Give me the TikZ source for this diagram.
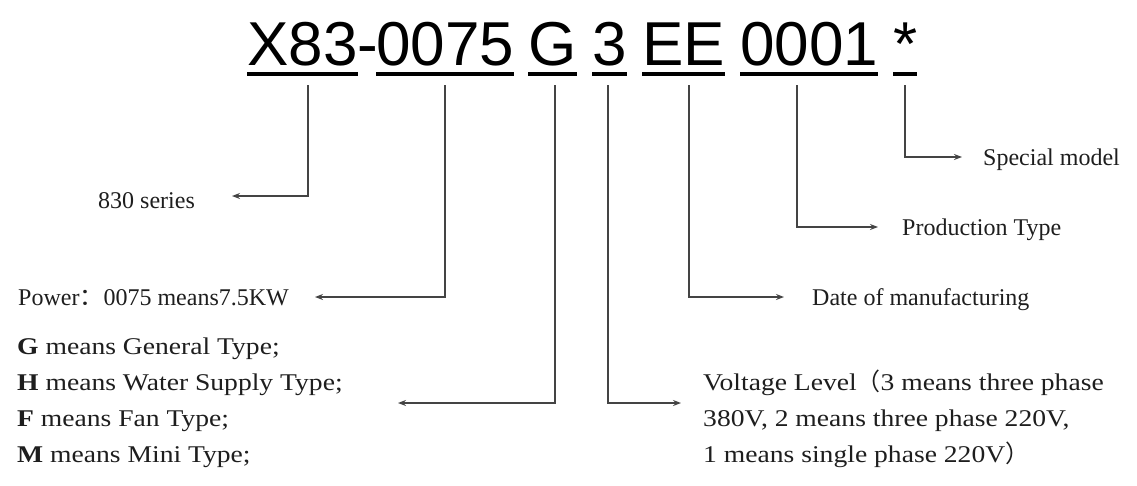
\documentclass[tikz,border=0pt]{standalone}
\usepackage{fontspec}
\setmainfont{Liberation Serif}
\newfontfamily\titlefont{Liberation Sans}
\newfontfamily\widefont[FakeStretch=1.15]{Liberation Serif}
\newfontfamily\cjk{Noto Sans CJK SC}
\usetikzlibrary{arrows.meta}
\definecolor{linec}{HTML}{444444}
\definecolor{labelc}{HTML}{1E1E1E}
\tikzset{
  code/.style={inner sep=0pt, anchor=base west, text=black, font=\titlefont\fontsize{62}{62}\selectfont},
  uline/.style={line width=4pt, draw=black},
  lbl/.style={inner sep=0pt, anchor=base west, text=labelc, font=\fontsize{24}{24}\selectfont},
  wlbl/.style={lbl, font=\widefont\fontsize{24}{24}\selectfont},
  conn/.style={draw=linec, line width=1.6pt, -{Stealth[length=8pt,width=6pt]}}
}
\begin{document}
\begin{tikzpicture}[x=1pt,y=-1pt]
\useasboundingbox[fill=white] (0,0) rectangle (1137,485);
% title groups
\node[code] (cX) at (247,65) {X83};
\node[code] (cD) at (cX.base east) {-};
\node[code] (cP) at (376,65) {0075};
\node[code] (cG) at (528,65) {G};
\node[code] (c3) at (592,65) {3};
\node[code] (cE) at (642,65) {EE};
\node[code] (cN) at (740,65) {0001};
\node[code] (cS) at (893,65) {*};
\foreach \n in {cX,cP,cG,c3,cE,cN}{
  \draw[uline] ([yshift=-9pt]\n.base west) -- ([yshift=-9pt]\n.base east);
}
\draw[uline] (893,74) -- (917,74);
% tick start points
\coordinate (tX) at (308,85);
\coordinate (tP) at (445,85);
\coordinate (tG) at (555,85);
\coordinate (t3) at (608,85);
\coordinate (tE) at (689,85);
\coordinate (tN) at (797,85);
\coordinate (tS) at (905,85);
% arrow tips
\coordinate (eX) at (232,196);
\coordinate (eP) at (315,297);
\coordinate (eG) at (398,403);
\coordinate (e3) at (681,403);
\coordinate (eE) at (784,297);
\coordinate (eN) at (878,227);
\coordinate (eS) at (962,157);
% labels
\node[lbl] (lX) at (98,208) {830 series};
\node[lbl] (lP) at (18,305) {Power{\cjk ：}0075 means7.5KW};
\node[wlbl] (lG1) at (17,354) {\textbf{G} means General Type;};
\node[wlbl] (lG2) at (17,390) {\textbf{H} means Water Supply Type;};
\node[wlbl] (lG3) at (17,426) {\textbf{F} means Fan Type;};
\node[wlbl] (lG4) at (17,462) {\textbf{M} means Mini Type;};
\node[wlbl] (l31) at (703,390) {Voltage Level{\cjk （}3 means three phase};
\node[wlbl] (l32) at (703,426) {380V, 2 means three phase 220V,};
\node[wlbl] (l33) at (703,462) {1 means single phase 220V{\cjk ）}};
\node[lbl] (lE) at (812,305) {Date of manufacturing};
\node[lbl] (lN) at (902,235) {Production Type};
\node[lbl] (lS) at (983,165) {Special model};
% connectors
\draw[conn] (tX) |- (eX);
\draw[conn] (tP) |- (eP);
\draw[conn] (tG) |- (eG);
\draw[conn] (t3) |- (e3);
\draw[conn] (tE) |- (eE);
\draw[conn] (tN) |- (eN);
\draw[conn] (tS) |- (eS);
\end{tikzpicture}
\end{document}
